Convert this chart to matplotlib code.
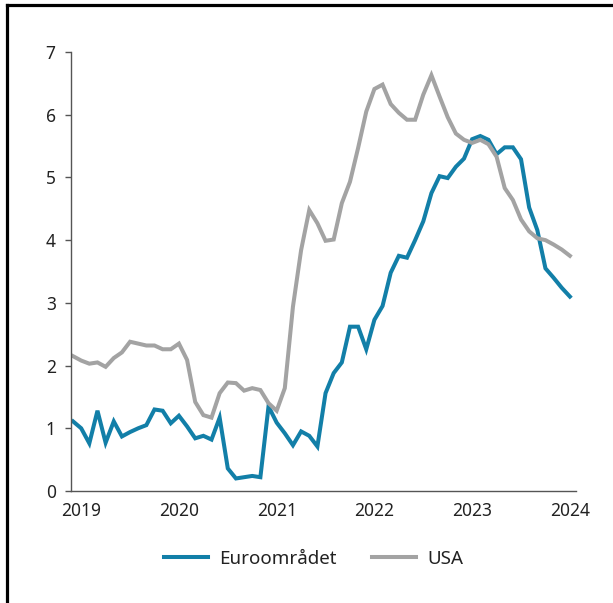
import matplotlib
matplotlib.use("Agg")
import matplotlib.pyplot as plt
from matplotlib.lines import Line2D

plt.rcParams['font.family'] = ['Noto Sans', 'DejaVu Sans']

# Monthly data, Jan 2019 - Feb 2024
euro = [1.11, 1.00, 0.76, 1.28, 0.77, 1.11, 0.87, 0.94, 1.00, 1.05,
        1.30, 1.28, 1.08, 1.20, 1.03, 0.84, 0.88, 0.82, 1.17, 0.36,
        0.20, 0.22, 0.24, 0.22, 1.35, 1.09, 0.92, 0.73, 0.95, 0.88,
        0.71, 1.56, 1.88, 2.05, 2.62, 2.62, 2.26, 2.73, 2.95, 3.48,
        3.75, 3.72, 4.00, 4.30, 4.75, 5.02, 4.99, 5.17, 5.30, 5.61,
        5.66, 5.60, 5.37, 5.48, 5.48, 5.29, 4.52, 4.16, 3.55, 3.40,
        3.24, 3.10]
usa = [2.15, 2.08, 2.03, 2.05, 1.98, 2.12, 2.21, 2.38, 2.35, 2.32,
       2.32, 2.26, 2.26, 2.35, 2.09, 1.42, 1.21, 1.17, 1.56, 1.73,
       1.72, 1.60, 1.64, 1.61, 1.40, 1.28, 1.64, 2.94, 3.84, 4.48,
       4.27, 3.99, 4.01, 4.59, 4.93, 5.47, 6.05, 6.41, 6.48, 6.17,
       6.03, 5.92, 5.92, 6.32, 6.63, 6.29, 5.96, 5.70, 5.60, 5.55,
       5.60, 5.53, 5.33, 4.83, 4.64, 4.33, 4.14, 4.03, 4.00, 3.93,
       3.85, 3.75]
year_labels = ['2019', '2020', '2021', '2022', '2023', '2024']
year_tick_idx = [1, 13, 25, 37, 49, 61]
y_ticks = [0, 1, 2, 3, 4, 5, 6, 7]

BLUE = '#127fa8'
GREY = '#a3a3a3'

fig = plt.figure(figsize=(6.13, 6.03), dpi=100)
ax = fig.add_axes([71/613, 1-491/603, (576-71)/613, (491-52)/603])

x = list(range(len(euro)))
ax.plot(x, euro, color=BLUE, lw=2.9, label='Euroområdet', solid_joinstyle='miter')
ax.plot(x, usa, color=GREY, lw=2.9, label='USA', solid_joinstyle='miter')

ax.set_xlim(-0.25, 61.75)
ax.set_ylim(0, 7)
ax.set_yticks(y_ticks)
ax.set_xticks(year_tick_idx)
ax.set_xticklabels(year_labels)

for s in ['top', 'right']:
    ax.spines[s].set_visible(False)
for s in ['left', 'bottom']:
    ax.spines[s].set_color('#555555')
    ax.spines[s].set_linewidth(1.0)

ax.tick_params(axis='y', length=4, width=1, color='#555555', labelsize=12.5,
               labelcolor='#222222', pad=7)
ax.tick_params(axis='x', length=0, labelsize=12.5, labelcolor='#222222', pad=8)

leg = fig.legend(loc='center', bbox_to_anchor=(0.512, 1-559/603), ncol=2,
                 frameon=False, fontsize=13.5, handlelength=2.35,
                 columnspacing=1.9, handletextpad=0.6)
for t in leg.get_texts():
    t.set_color('#222222')

# outer frame (top and left edges visible)
fig.add_artist(Line2D([7/613, 1.0], [1-5/603, 1-5/603], transform=fig.transFigure,
                      color='black', lw=2.3))
fig.add_artist(Line2D([7/613, 7/613], [0, 1-5/603], transform=fig.transFigure,
                      color='black', lw=2.3, solid_capstyle='projecting'))

fig.savefig('out.png', dpi=100)
